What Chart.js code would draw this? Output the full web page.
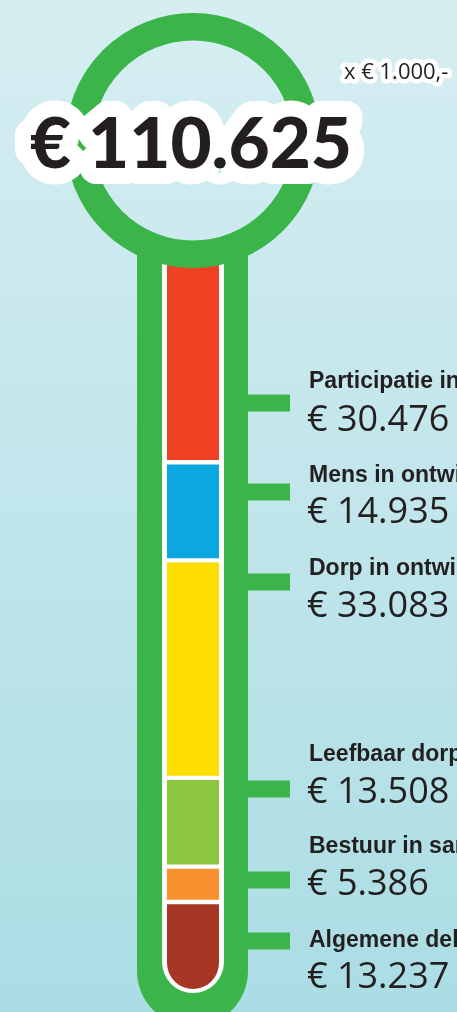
<!DOCTYPE html>
<html>
<head>
<meta charset="utf-8">
<script src="https://cdn.jsdelivr.net/npm/chart.js@4"></script>
<style>
html,body{margin:0;padding:0;background:#c4e6eb;}
#wrap{width:457px;height:1012px;position:relative;overflow:hidden;}
canvas{display:block;}
</style>
</head>
<body>
<div id="wrap"><canvas id="c" width="457" height="1012"></canvas></div>
<script>
// ---- data (top of the thermometer first) ----
const categories = ['Participatie in ontwikkeling', 'Mens in ontwikkeling', 'Dorp in ontwikkeling', 'Leefbaar dorp', 'Bestuur in samenspel', 'Algemene dekkingsmiddelen'];
const values = [30.476, 14.935, 33.083, 13.508, 5.386, 13.237];
const unitLabel = 'x € 1.000,-';

// ---- styles / layout ----
const colors = ['#ef4123', '#0ba7df', '#fedd00', '#8cc63f', '#f7902d', '#a63725'];
const frameGreen = '#3bb54a';
const textColor = '#231f20';
const titleY = [388, 482, 575, 761, 853, 947];
const valueY = [431, 523, 617, 803, 895, 988];
const stubY = [403, 492, 582, 789, 880, 941];

const total = values.reduce((a, b) => a + b, 0);
const fmt = v => '€ ' + v.toFixed(3);

const frame = {
  id: 'frame',
  beforeDraw(chart) {
    const ctx = chart.ctx;
    const W = chart.width, H = chart.height;
    ctx.save();
    const g = ctx.createLinearGradient(0, 0, 0, H);
    g.addColorStop(0, '#d6eef2');
    g.addColorStop(1, '#abdde4');
    ctx.fillStyle = g;
    ctx.fillRect(0, 0, W, H);
    // green tube
    ctx.fillStyle = frameGreen;
    ctx.beginPath();
    ctx.moveTo(137, 242);
    ctx.lineTo(248, 242);
    ctx.lineTo(248, 971);
    ctx.arc(192.5, 971, 55.5, 0, Math.PI, false);
    ctx.closePath();
    ctx.fill();
    // stubs
    stubY.forEach(y => ctx.fillRect(246, y - 8.5, 44, 17));
    // white inner tube
    ctx.fillStyle = '#ffffff';
    ctx.beginPath();
    ctx.moveTo(162, 242);
    ctx.lineTo(224, 242);
    ctx.lineTo(224, 962);
    ctx.arc(193, 962, 31, 0, Math.PI, false);
    ctx.closePath();
    ctx.fill();
    ctx.restore();
  },
  afterDatasetsDraw(chart) {
    const ctx = chart.ctx;
    ctx.save();
    // bulb ring
    ctx.strokeStyle = frameGreen;
    ctx.lineWidth = 27.5;
    ctx.beginPath();
    ctx.arc(193, 140.5, 113.75, 0, Math.PI * 2);
    ctx.stroke();
    // total
    ctx.textBaseline = 'alphabetic';
    ctx.textAlign = 'left';
    ctx.lineJoin = 'round';
    ctx.strokeStyle = '#ffffff';
    ctx.fillStyle = textColor;
    const totalText = fmt(total);
    ctx.font = '900 71px Lato, "DejaVu Sans", sans-serif';
    ctx.lineWidth = 32;
    ctx.strokeText(totalText, 30, 168);
    ctx.fillText(totalText, 30, 168);
    // unit
    ctx.font = '22px "Open Sans", sans-serif';
    ctx.lineWidth = 9;
    ctx.strokeText(unitLabel, 344, 79);
    ctx.fillText(unitLabel, 344, 79);
    // labels
    categories.forEach((c, i) => {
      ctx.font = 'bold 23px "Liberation Sans", Arial, sans-serif';
      ctx.fillText(c, 309, titleY[i]);
      ctx.font = '36px "Open Sans", sans-serif';
      ctx.fillText(fmt(values[i]), 307, valueY[i]);
    });
    ctx.restore();
  }
};

const n = values.length;
const datasets = [];
for (let i = n - 1; i >= 0; i--) {
  const last = i === n - 1;
  datasets.push({
    label: categories[i],
    data: [values[i]],
    backgroundColor: colors[i],
    borderColor: '#ffffff',
    borderWidth: {top: 2.5, bottom: last ? 0 : 2.5, left: 0, right: 0},
    borderSkipped: false,
    borderRadius: last ? {topLeft: 0, topRight: 0, bottomLeft: 26, bottomRight: 26} : 0,
    barPercentage: 1,
    categoryPercentage: 1
  });
}

new Chart(document.getElementById('c'), {
  type: 'bar',
  data: {labels: ['Totaal'], datasets},
  options: {
    responsive: false,
    devicePixelRatio: 1,
    animation: false,
    layout: {padding: {top: 262, bottom: 23, left: 167, right: 238}},
    plugins: {legend: {display: false}, tooltip: {enabled: false}},
    scales: {
      x: {stacked: true, display: false},
      y: {stacked: true, display: false, min: 0, max: total}
    }
  },
  plugins: [frame]
});
</script>
</body>
</html>
